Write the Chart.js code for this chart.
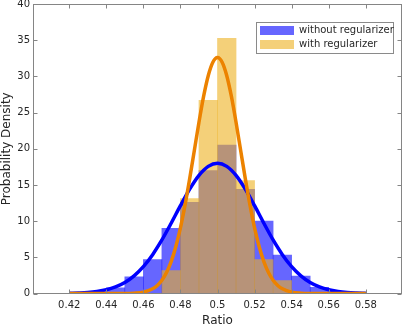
<!DOCTYPE html>
<html>
<head>
<meta charset="utf-8">
<style>
  body { margin: 0; background: #fff; }
  #wrap { position: relative; width: 402px; height: 327px; }
  #legend {
    position: absolute; left: 256px; top: 22px; width: 136px; height: 30px;
    border: 1px solid #8a8a8a; background: #fff;
    font: 10px "DejaVu Sans"; color: #262626;
  }
  .row { position: absolute; left: 3px; height: 10px; }
  .sw { position: absolute; left: 0; top: 0; width: 34px; height: 9px; }
  .lbl { position: absolute; left: 39px; top: -2px; white-space: nowrap; line-height: 12px; }
</style>
</head>
<body>
<div id="wrap">
  <canvas id="myChart" width="402" height="327"></canvas>
  <div id="legend">
    <div class="row" style="top:3px"><div class="sw" style="background:rgba(0,0,255,0.6)"></div><span class="lbl">without regularizer</span></div>
    <div class="row" style="top:17px"><div class="sw" style="background:rgba(237,177,32,0.6)"></div><span class="lbl">with regularizer</span></div>
  </div>
</div>

<script src="https://cdn.jsdelivr.net/npm/chart.js"></script>
<script>
  // histogram bins (centres, width 0.01) and densities
  const blueBins = [0.445, 0.455, 0.465, 0.475, 0.485, 0.495, 0.505, 0.515, 0.525, 0.535, 0.545, 0.555];
  const blueDensity = [0.8, 2.3, 4.7, 9.0, 12.6, 17.0, 20.5, 14.4, 10.0, 5.3, 2.4, 0.85];

  const orangeBins = [0.475, 0.485, 0.495, 0.505, 0.515, 0.525, 0.535];
  const orangeDensity = [3.15, 13.1, 26.7, 35.25, 15.6, 4.7, 1.8];

  // fitted curves
  const blueCurveX = [0.42, 0.425, 0.43, 0.435, 0.44, 0.445, 0.45, 0.455, 0.46, 0.465, 0.47, 0.475, 0.48, 0.485, 0.49, 0.495,
    0.5, 0.505, 0.51, 0.515, 0.52, 0.525, 0.53, 0.535, 0.54, 0.545, 0.55, 0.555, 0.56, 0.565, 0.57, 0.575, 0.58];
  const blueCurveY = [0.03, 0.07, 0.14, 0.28, 0.51, 0.91, 1.52, 2.44, 3.71, 5.37, 7.40, 9.71, 12.13, 14.41, 16.31, 17.56,
    18.0, 17.56, 16.31, 14.41, 12.13, 9.71, 7.40, 5.37, 3.71, 2.44, 1.52, 0.91, 0.51, 0.28, 0.14, 0.07, 0.03];

  const orangeCurveX = [0.42, 0.43, 0.44, 0.45, 0.455, 0.46, 0.465, 0.4675, 0.47, 0.4725, 0.475, 0.4775, 0.48, 0.4825, 0.485,
    0.4875, 0.49, 0.4925, 0.495, 0.4975, 0.5, 0.5025, 0.505, 0.5075, 0.51, 0.5125, 0.515, 0.5175, 0.52, 0.5225, 0.525,
    0.5275, 0.53, 0.5325, 0.535, 0.54, 0.545, 0.55, 0.56, 0.57, 0.58];
  const orangeCurveY = [0, 0, 0, 0.01, 0.05, 0.19, 0.65, 1.11, 1.83, 2.90, 4.41, 6.45, 9.06, 12.24, 15.87,
    19.77, 23.67, 27.23, 30.09, 31.95, 32.6, 31.95, 30.09, 27.23, 23.67, 19.77, 15.87, 12.24, 9.06, 6.45, 4.41,
    2.90, 1.83, 1.11, 0.65, 0.19, 0.05, 0.01, 0, 0, 0];

  const xTicks = [0.42, 0.44, 0.46, 0.48, 0.5, 0.52, 0.54, 0.56, 0.58];
  const yTicks = [0, 5, 10, 15, 20, 25, 30, 35, 40];

  const pts = (xs, ys) => xs.map((x, i) => ({ x: x, y: ys[i] }));

  // box round the plot area with inward ticks on all four sides
  const boxPlugin = {
    id: 'box',
    afterDraw(chart) {
      const { ctx, chartArea: a, scales: { x, y } } = chart;
      const L = Math.round(a.left) - 0.5, R = Math.round(a.right) + 0.5;
      const T = Math.round(a.top) + 0.5, B = Math.round(a.bottom) - 0.5;
      ctx.save();
      ctx.strokeStyle = '#858585';
      ctx.lineWidth = 1;
      ctx.strokeRect(L, T, R - L, B - T);
      ctx.beginPath();
      xTicks.forEach(v => {
        const px = Math.round(x.getPixelForValue(v)) + 0.5;
        ctx.moveTo(px, B); ctx.lineTo(px, B - 4);
        ctx.moveTo(px, T); ctx.lineTo(px, T + 4);
      });
      yTicks.forEach(v => {
        const py = Math.round(y.getPixelForValue(v)) + 0.5;
        ctx.moveTo(L, py); ctx.lineTo(L + 4, py);
        ctx.moveTo(R, py); ctx.lineTo(R - 4, py);
      });
      ctx.stroke();
      ctx.restore();
    }
  };

  const ctx = document.getElementById('myChart');
  const textColor = '#262626';

  const myChart = new Chart(ctx, {
    type: 'bar',
    data: {
      datasets: [
        {
          label: 'without regularizer',
          data: pts(blueBins, blueDensity),
          backgroundColor: 'rgba(0,0,255,0.6)',
          borderWidth: 0,
          barPercentage: 1,
          categoryPercentage: 1,
          grouped: false,
          order: 4
        },
        {
          label: 'with regularizer',
          data: pts(orangeBins, orangeDensity),
          backgroundColor: 'rgba(237,177,32,0.6)',
          borderWidth: 0,
          barPercentage: 1,
          categoryPercentage: 1,
          grouped: false,
          order: 3
        },
        {
          type: 'line',
          label: 'fit without',
          data: pts(blueCurveX, blueCurveY),
          borderColor: '#0000ff',
          borderWidth: 3.5,
          pointRadius: 0,
          cubicInterpolationMode: 'monotone',
          fill: false,
          order: 2
        },
        {
          type: 'line',
          label: 'fit with',
          data: pts(orangeCurveX, orangeCurveY),
          borderColor: '#ec8200',
          borderWidth: 3.5,
          pointRadius: 0,
          cubicInterpolationMode: 'monotone',
          fill: false,
          order: 1
        }
      ]
    },
    options: {
      responsive: false,
      animation: false,
      layout: { padding: { top: 4, right: 1, left: 0, bottom: 0 } },
      plugins: { legend: { display: false }, tooltip: { enabled: false } },
      scales: {
        x: {
          type: 'linear',
          min: 0.412,
          max: 0.588,
          grid: { display: false, drawTicks: false },
          border: { display: false },
          afterBuildTicks: s => { s.ticks = xTicks.map(v => ({ value: v })); },
          afterFit: s => { s.height = 33.5; s.paddingLeft = 0; s.paddingRight = 0; },
          ticks: {
            color: textColor,
            font: { family: 'DejaVu Sans', size: 10 },
            padding: 6,
            maxRotation: 0,
            autoSkip: false,
            callback: v => String(v)
          },
          title: {
            display: true,
            text: 'Ratio',
            color: textColor,
            font: { family: 'DejaVu Sans', size: 12, lineHeight: 1 },
            padding: { top: 0, bottom: 0 }
          }
        },
        y: {
          min: 0,
          max: 40,
          grid: { display: false, drawTicks: false },
          border: { display: false },
          afterBuildTicks: s => { s.ticks = yTicks.map(v => ({ value: v })); },
          afterFit: s => { s.width = 34; s.paddingTop = 0; s.paddingBottom = 0; },
          ticks: {
            color: textColor,
            font: { family: 'DejaVu Sans', size: 10 },
            padding: 4
          },
          title: {
            display: true,
            text: 'Probability Density',
            color: textColor,
            font: { family: 'DejaVu Sans', size: 12, lineHeight: 1 },
            padding: { top: 1, bottom: 0 }
          }
        }
      }
    },
    plugins: [boxPlugin]
  });
</script>
</body>
</html>
